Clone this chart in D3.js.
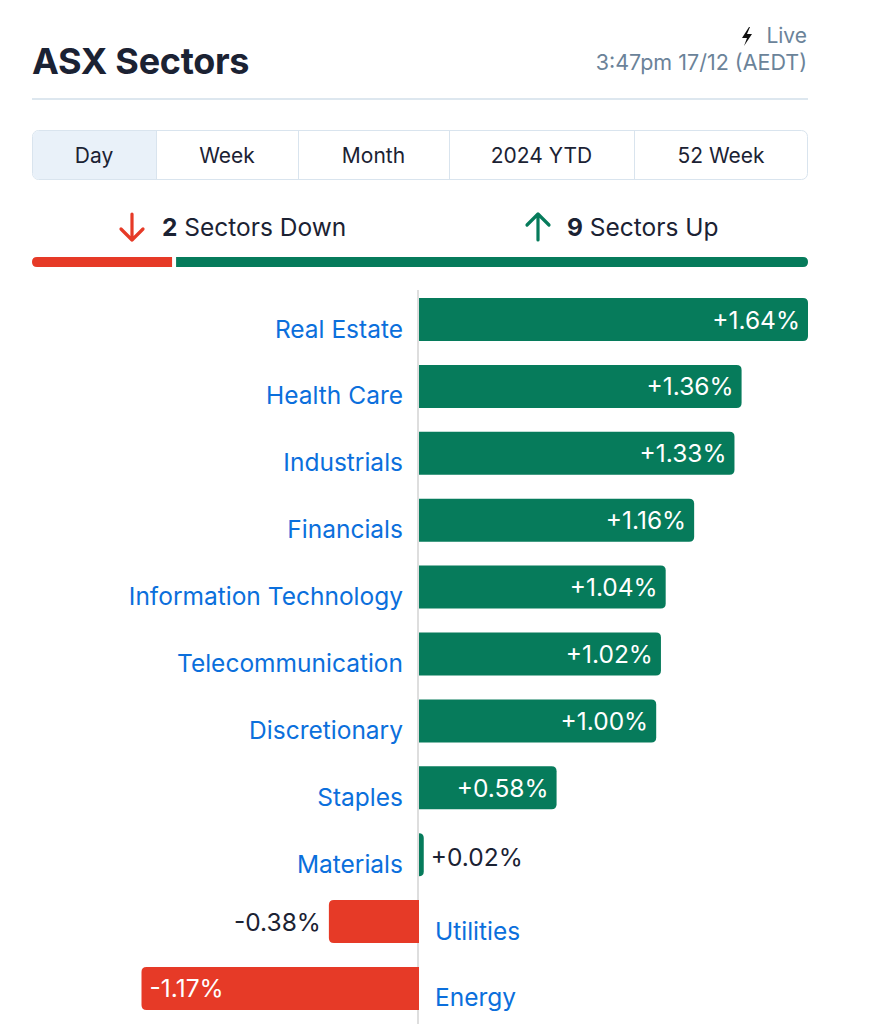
<!DOCTYPE html>
<html><head><meta charset="utf-8">
<script src="https://cdn.jsdelivr.net/npm/d3@7"></script>
<style>
body{margin:0;background:#fff;font-family:Inter,"Noto Sans",sans-serif;}
</style></head><body>
<svg id="c" width="892" height="1024"></svg>
<script>
const categories = ["Real Estate","Health Care","Industrials","Financials","Information Technology","Telecommunication","Discretionary","Staples","Materials","Utilities","Energy"];
const values = [1.64,1.36,1.33,1.16,1.04,1.02,1.00,0.58,0.02,-0.38,-1.17];
const tabs = ["Day","Week","Month","2024 YTD","52 Week"];
const tabEdges = [32,156,298,449,634,808];
const downCount = 2, upCount = 9;

const GREEN="#067b5b", RED="#e63a27", BLUE="#0b6fdc", DARK="#1b2233", SLATE="#6b8399";
const svg = d3.select("#c");

// Header
svg.append("text").attr("x",32).attr("y",74).attr("font-size",36).attr("font-weight",700).attr("fill",DARK).attr("letter-spacing",-0.3).text("ASX Sectors");
svg.append("text").attr("x",807).attr("y",43).attr("text-anchor","end").attr("font-size",21).attr("fill",SLATE).text("Live");
svg.append("path").attr("d","M749,27 L742,38 L747,38 L744,46 L752,34 L747,34 L750,27 Z").attr("fill","#111");
svg.append("text").attr("x",807).attr("y",70).attr("text-anchor","end").attr("font-size",21.5).attr("fill",SLATE).text("3:47pm 17/12 (AEDT)");
svg.append("line").attr("x1",32).attr("x2",808).attr("y1",99).attr("y2",99).attr("stroke","#dde7ef").attr("stroke-width",2);

// Tabs
svg.append("rect").attr("x",32.5).attr("y",130.5).attr("width",775).attr("height",49).attr("rx",6).attr("fill","#fff").attr("stroke","#d9e4ee");
svg.append("path").attr("d",`M${tabEdges[1]},131 L38.5,131 Q33,131 33,137 L33,173 Q33,179 38.5,179 L${tabEdges[1]},179 Z`).attr("fill","#e9f1f9");
tabEdges.slice(1,-1).forEach(x=>svg.append("line").attr("x1",x+.5).attr("x2",x+.5).attr("y1",131).attr("y2",179).attr("stroke","#d9e4ee"));
tabs.forEach((t,i)=>svg.append("text").attr("x",(tabEdges[i]+tabEdges[i+1])/2).attr("y",163).attr("text-anchor","middle").attr("font-size",21).attr("fill",DARK).text(t));

// Up/Down
const arrow = (x,up,col)=>{
  const g=svg.append("g").attr("stroke",col).attr("stroke-width",3.2).attr("fill","none").attr("stroke-linecap","round").attr("stroke-linejoin","round");
  if(up){g.append("path").attr("d",`M${x},240 L${x},214 M${x-11},225 L${x},214 L${x+11},225`);}
  else{g.append("path").attr("d",`M${x},214 L${x},240 M${x-11},229 L${x},240 L${x+11},229`);}
};
arrow(132,false,RED);
const dt=svg.append("text").attr("x",162).attr("y",236).attr("font-size",24.5).attr("fill",DARK);
dt.append("tspan").attr("font-weight",700).text(downCount);
dt.append("tspan").text(" Sectors Down");
arrow(538,true,GREEN);
const ut=svg.append("text").attr("x",567).attr("y",236).attr("font-size",24.5).attr("fill",DARK);
ut.append("tspan").attr("font-weight",700).text(upCount);
ut.append("tspan").text(" Sectors Up");

const split = d3.scaleLinear().domain([0,downCount+upCount]).range([32,808]);
svg.append("path").attr("d",`M${split(downCount)-1},257 L37,257 Q32,257 32,262 Q32,267 37,267 L${split(downCount)-1},267 Z`).attr("fill",RED);
svg.append("path").attr("d",`M${split(downCount)+3},257 L803,257 Q808,257 808,262 Q808,267 803,267 L${split(downCount)+3},267 Z`).attr("fill",GREEN);

// Chart
const x = d3.scaleLinear().domain([-1.17,1.64]).range([141.5,808]);
const y = d3.scaleBand().domain(categories).range([298,1010]).paddingInner(0.357).paddingOuter(0);
const x0 = x(0);
svg.append("line").attr("x1",x0-1).attr("x2",x0-1).attr("y1",290).attr("y2",1024).attr("stroke","#dedede").attr("stroke-width",2);

const bh = y.bandwidth();
function barPath(v,yt){
  const xe = x(v), r = Math.min(5, Math.abs(xe-x0));
  if(v>=0){
    return `M${x0},${yt} L${xe-r},${yt} Q${xe},${yt} ${xe},${yt+r} L${xe},${yt+bh-r} Q${xe},${yt+bh} ${xe-r},${yt+bh} L${x0},${yt+bh} Z`;
  } else {
    return `M${x0},${yt} L${xe+r},${yt} Q${xe},${yt} ${xe},${yt+r} L${xe},${yt+bh-r} Q${xe},${yt+bh} ${xe+r},${yt+bh} L${x0},${yt+bh} Z`;
  }
}
const fmt = v => (v>=0?"+":"")+v.toFixed(2)+"%";
categories.forEach((c,i)=>{
  const v=values[i], yt=y(c), cy=yt+bh/2;
  svg.append("path").attr("d",barPath(v,yt)).attr("fill",v>=0?GREEN:RED);
  const w=Math.abs(x(v)-x0);
  const inside = w>100;
  let tx, anchor, col;
  if(v>=0){ if(inside){tx=x(v)-8;anchor="end";col="#fff";} else {tx=x(v)+7;anchor="start";col=DARK;} }
  else { if(inside){tx=x(v)+8;anchor="start";col="#fff";} else {tx=x(v)-8;anchor="end";col=DARK;} }
  svg.append("text").attr("x",tx).attr("y",cy+(inside?9:(v>=0?11:9))).attr("text-anchor",anchor).attr("font-size",24.5).attr("fill",col).text(fmt(v));
  svg.append("text").attr("x",v>=0?x0-16:x0+16).attr("y",cy+18).attr("text-anchor",v>=0?"end":"start").attr("font-size",24.5).attr("fill",BLUE).text(c);
});
</script></body></html>
